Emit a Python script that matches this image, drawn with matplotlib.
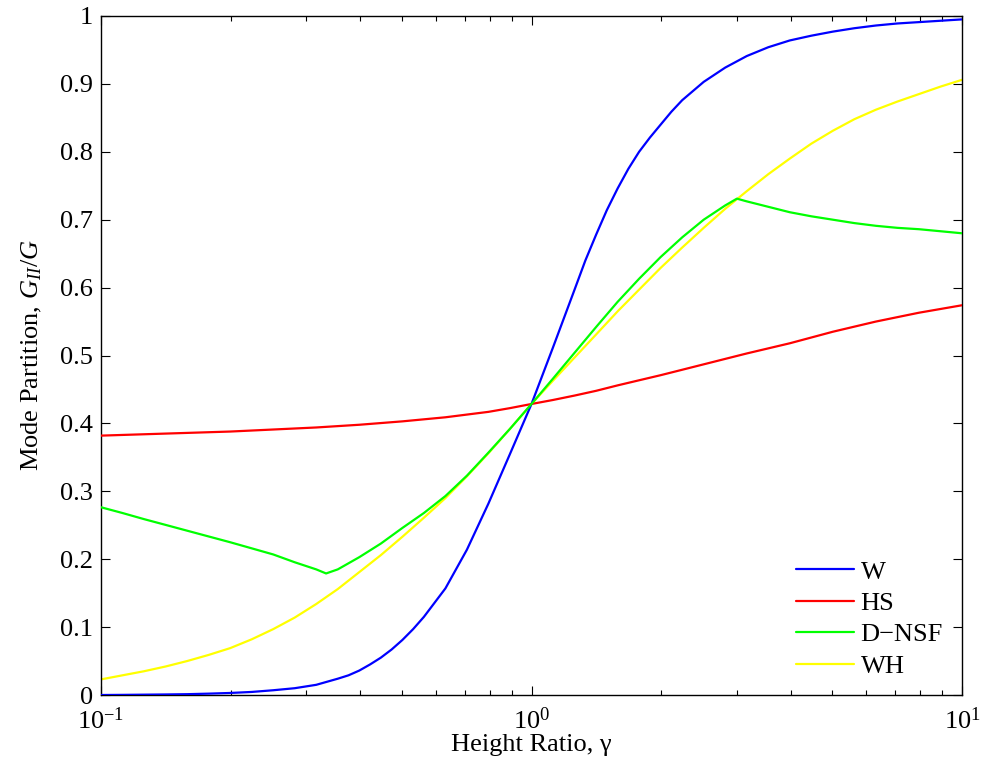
import matplotlib
matplotlib.use("Agg")
import matplotlib.pyplot as plt
from matplotlib.ticker import FixedLocator, LogLocator, NullFormatter

plt.rcParams["font.family"] = ["Liberation Serif", "DejaVu Serif"]
plt.rcParams["mathtext.fontset"] = "custom"
plt.rcParams["mathtext.rm"] = "Liberation Serif"
plt.rcParams["mathtext.it"] = "Liberation Serif:italic"
plt.rcParams["mathtext.bf"] = "Liberation Serif:bold"

# Height ratio samples (gamma), 20 per decade
gamma = [0.1, 0.1122, 0.1259, 0.1413, 0.1585, 0.1778, 0.1995, 0.2239,
         0.2512, 0.2818, 0.3162, 0.3548, 0.3981, 0.4467, 0.5012, 0.5623,
         0.6310, 0.7079, 0.7943, 0.8913, 1.0, 1.122, 1.259, 1.413,
         1.585, 1.778, 1.995, 2.239, 2.512, 2.818, 3.162, 3.548,
         3.981, 4.467, 5.012, 5.623, 6.310, 7.079, 7.943, 8.913, 10.0]

# W model is sampled more densely where it bends sharply
gamma_w = [0.1, 0.1122, 0.1259, 0.1413, 0.1585, 0.1778, 0.1995, 0.2239,
           0.2512, 0.2818, 0.3162, 0.3548, 0.3758, 0.3981, 0.4217, 0.4467,
           0.4732, 0.5012, 0.5309, 0.5623, 0.6310, 0.7079, 0.7943, 0.8913,
           1.0, 1.122, 1.259, 1.334, 1.413, 1.496, 1.585, 1.679, 1.778,
           1.884, 1.995, 2.113, 2.239, 2.512, 2.818, 3.162, 3.548,
           3.981, 4.467, 5.012, 5.623, 6.310, 7.079, 7.943, 8.913, 10.0]

# Mode partition G_II/G for each model
w_vals = [0.000, 0.0002, 0.0005, 0.0008, 0.0012, 0.002, 0.003, 0.0045,
          0.007, 0.010, 0.015, 0.024, 0.029, 0.036, 0.045, 0.055,
          0.067, 0.081, 0.097, 0.115, 0.157, 0.214, 0.282, 0.355,
          0.4286, 0.512, 0.597, 0.640, 0.678, 0.714, 0.746, 0.775, 0.800,
          0.821, 0.840, 0.859, 0.876, 0.903, 0.924, 0.941, 0.954,
          0.964, 0.971, 0.977, 0.982, 0.986, 0.989, 0.991, 0.993, 0.995]

hs_vals = [0.382, 0.383, 0.384, 0.385, 0.386, 0.387, 0.388, 0.3895,
           0.391, 0.3925, 0.394, 0.396, 0.398, 0.4005, 0.403, 0.406,
           0.409, 0.413, 0.417, 0.4225, 0.4286, 0.4345, 0.441, 0.448,
           0.456, 0.4635, 0.471, 0.479, 0.487, 0.495, 0.503, 0.5105,
           0.518, 0.5265, 0.535, 0.5425, 0.550, 0.5565, 0.563, 0.5685, 0.574]

wh_vals = [0.023, 0.029, 0.035, 0.042, 0.050, 0.059, 0.069, 0.082,
           0.097, 0.114, 0.134, 0.156, 0.181, 0.206, 0.233, 0.261,
           0.290, 0.322, 0.356, 0.392, 0.4286, 0.463, 0.497, 0.531,
           0.565, 0.597, 0.629, 0.659, 0.688, 0.716, 0.742, 0.767,
           0.790, 0.812, 0.831, 0.848, 0.862, 0.874, 0.885, 0.896, 0.906]

# D-NSF switches branch at gamma = 1/3 and gamma = 3
gamma_dnsf = [0.1, 0.1122, 0.1259, 0.1413, 0.1585, 0.1778, 0.1995, 0.2239,
              0.2512, 0.2818, 0.3162, 0.3333, 0.3548, 0.3981, 0.4467, 0.5012,
              0.5623, 0.6310, 0.7079, 0.7943, 0.8913, 1.0, 1.122, 1.259,
              1.413, 1.585, 1.778, 1.995, 2.239, 2.512, 2.818, 3.0,
              3.162, 3.548, 3.981, 4.467, 5.012, 5.623, 6.310, 7.079,
              7.943, 8.913, 10.0]
dnsf_vals = [0.2765, 0.268, 0.259, 0.2505, 0.242, 0.2335, 0.225, 0.216,
             0.207, 0.1955, 0.185, 0.179, 0.185, 0.203, 0.223, 0.246,
             0.268, 0.293, 0.323, 0.357, 0.392, 0.4286, 0.466, 0.504,
             0.542, 0.579, 0.613, 0.645, 0.674, 0.700, 0.721, 0.731,
             0.727, 0.719, 0.711, 0.705, 0.700, 0.695, 0.691, 0.688,
             0.686, 0.683, 0.680]

y_ticks = [0, 0.1, 0.2, 0.3, 0.4, 0.5, 0.6, 0.7, 0.8, 0.9, 1]
y_ticklabels = ["0", "0.1", "0.2", "0.3", "0.4", "0.5", "0.6", "0.7", "0.8", "0.9", "1"]

fig = plt.figure(figsize=(9.81, 7.70), dpi=100)
ax = fig.add_axes([101 / 981, 1 - 695 / 770, (962 - 101) / 981, (695 - 16) / 770])

lw = 1.6
style = dict(lw=lw, solid_joinstyle="round", solid_capstyle="round")
ax.plot(gamma_w, w_vals, color=(0, 0, 1), label="W", zorder=3, **style)
ax.plot(gamma, hs_vals, color=(1, 0, 0), label="HS", zorder=3, **style)
ax.plot(gamma_dnsf, dnsf_vals, color=(0, 1, 0), label="D\u2212NSF", zorder=4, **style)
ax.plot(gamma, wh_vals, color=(1, 1, 0), label="WH", zorder=2.5, **style)

ax.set_xscale("log")
ax.set_xlim(0.1, 10)
ax.set_ylim(0, 1)
ax.set_yticks(y_ticks)
ax.set_yticklabels(y_ticklabels)
ax.xaxis.set_major_locator(FixedLocator([0.1, 1, 10]))
ax.xaxis.set_minor_locator(LogLocator(base=10, subs=range(2, 10)))
ax.xaxis.set_minor_formatter(NullFormatter())

ax.tick_params(which="both", direction="in", top=True, right=True,
               labelsize=19, width=0.8, color="black")
ax.tick_params(which="major", length=6.5)
ax.tick_params(which="minor", length=3.3)
ax.tick_params(axis="x", which="major", pad=9)
ax.tick_params(axis="y", which="major", pad=6)
for s in ax.spines.values():
    s.set_linewidth(1.0)

ax.set_xlabel("Height Ratio, \u03b3", fontsize=19, labelpad=0)
ax.set_ylabel("Mode Partition, $G_{II}/G$", fontsize=19, labelpad=11)

leg = ax.legend(loc="lower left", bbox_to_anchor=(0.787, 0.0), frameon=False,
                fontsize=19, handlelength=2.2, handletextpad=0.26,
                labelspacing=0.3, borderpad=0.2, borderaxespad=0.45)

fig.savefig("out.png", dpi=100)
